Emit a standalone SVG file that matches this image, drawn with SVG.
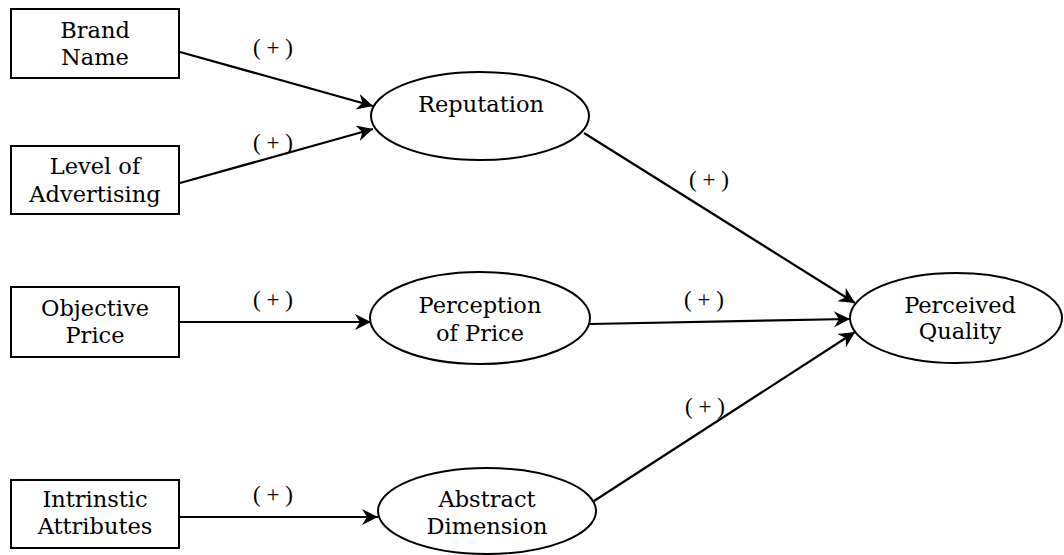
<svg xmlns="http://www.w3.org/2000/svg" width="1064" height="555" viewBox="0 0 1064 555">
  <style>
    .box { fill: #fff; stroke: #000; stroke-width: 2; }
    .oval { fill: #fff; stroke: #000; stroke-width: 2; }
    .t { font-family: "DejaVu Serif", "Liberation Serif", serif; font-size: 22.5px; fill: #000; text-anchor: middle; }
    .sign { font-family: "Liberation Serif", "DejaVu Serif", serif; font-size: 23px; fill: #000; text-anchor: middle; }
    .edge { stroke: #000; stroke-width: 2.2; fill: none; marker-end: url(#arrow); }
  </style>
  <defs>
    <marker id="arrow" markerUnits="userSpaceOnUse" markerWidth="20" markerHeight="18" refX="17" refY="8" orient="auto">
      <path d="M17,8 L1,0 L6,8 L1,16 Z" fill="#000"/>
    </marker>
  </defs>

  <!-- connectors -->
  <g id="connectors">
    <line class="edge" x1="180" y1="52" x2="373" y2="106"/>
    <line class="edge" x1="180" y1="183" x2="373" y2="129"/>
    <line class="edge" x1="180" y1="322" x2="371" y2="322"/>
    <line class="edge" x1="180" y1="517" x2="378" y2="517"/>
    <line class="edge" x1="584" y1="133" x2="855" y2="303"/>
    <line class="edge" x1="590" y1="324" x2="850" y2="319"/>
    <line class="edge" x1="594" y1="501" x2="855" y2="332"/>
    <text class="sign" x="273" y="55">( + )</text>
    <text class="sign" x="273" y="150">( + )</text>
    <text class="sign" x="273" y="307">( + )</text>
    <text class="sign" x="273" y="502">( + )</text>
    <text class="sign" x="709" y="187">( + )</text>
    <text class="sign" x="704" y="307">( + )</text>
    <text class="sign" x="705" y="414">( + )</text>
  </g>

  <g id="brand-name">
    <rect class="box" x="11" y="9" width="168" height="69"/>
    <text class="t" x="95" y="38">Brand</text>
    <text class="t" x="95" y="65">Name</text>
  </g>
  <g id="level-of-advertising">
    <rect class="box" x="11" y="146" width="168" height="68"/>
    <text class="t" x="95" y="174">Level of</text>
    <text class="t" x="95" y="202">Advertising</text>
  </g>
  <g id="objective-price">
    <rect class="box" x="11" y="287" width="168" height="70"/>
    <text class="t" x="95" y="316">Objective</text>
    <text class="t" x="95" y="343">Price</text>
  </g>
  <g id="intrinstic-attributes">
    <rect class="box" x="11" y="480" width="168" height="68"/>
    <text class="t" x="95" y="507">Intrinstic</text>
    <text class="t" x="95" y="534">Attributes</text>
  </g>

  <g id="reputation">
    <ellipse class="oval" cx="480" cy="116" rx="109" ry="44"/>
    <text class="t" x="481" y="112">Reputation</text>
  </g>
  <g id="perception-of-price">
    <ellipse class="oval" cx="480" cy="318" rx="110" ry="46"/>
    <text class="t" x="480" y="313">Perception</text>
    <text class="t" x="480" y="341">of Price</text>
  </g>
  <g id="abstract-dimension">
    <ellipse class="oval" cx="487" cy="511" rx="109" ry="43"/>
    <text class="t" x="487" y="507">Abstract</text>
    <text class="t" x="487" y="534">Dimension</text>
  </g>
  <g id="perceived-quality">
    <ellipse class="oval" cx="956" cy="318" rx="106" ry="45"/>
    <text class="t" x="960" y="313">Perceived</text>
    <text class="t" x="960" y="339">Quality</text>
  </g>
</svg>
